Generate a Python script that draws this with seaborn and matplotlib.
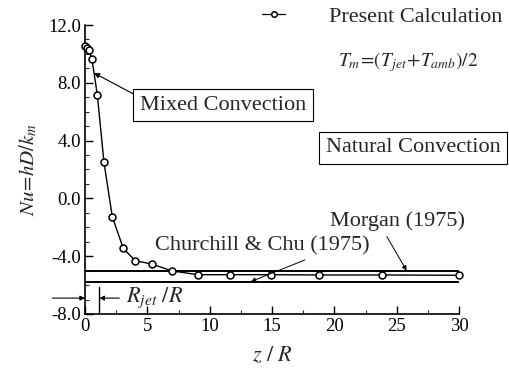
import numpy as np
import pandas as pd
import matplotlib
matplotlib.use("Agg")
import matplotlib.pyplot as plt
from matplotlib.ticker import MultipleLocator
import seaborn as sns

# ---- data ----
z_R = [0.0, 0.2, 0.3, 0.56, 0.99, 1.52, 2.19, 3.07, 4.03, 5.34, 7.0, 9.06, 11.6, 14.9, 18.8, 23.8, 30.0]
nu = [10.55, 10.4, 10.3, 9.62, 7.16, 2.5, -1.27, -3.46, -4.31, -4.54, -5.02, -5.28, -5.28, -5.28, -5.3, -5.3, -5.32]
morgan_x = [0.0, 30.0]
morgan_y = [-5.0, -5.0]
churchill_x = [0.0, 30.0]
churchill_y = [-5.76, -5.76]
rjet = 1.15
xticks = [0, 5, 10, 15, 20, 25, 30]
yticks = [-8.0, -4.0, 0.0, 4.0, 8.0, 12.0]

sns.set_style("ticks")
plt.rcParams['font.family'] = ['Liberation Serif', 'DejaVu Serif']
plt.rcParams['mathtext.fontset'] = 'stix'
plt.rcParams['axes.unicode_minus'] = False

fig = plt.figure(figsize=(5.09, 3.78), dpi=100)
ax = fig.add_axes([85/509, 1-314/378, (459-85)/509, (314-25)/378])

df = pd.DataFrame({"z": z_R, "nu": nu})
sns.lineplot(data=df, x="z", y="nu", ax=ax, color="black", lw=1.0, marker="o",
             markersize=5, markerfacecolor="white", markeredgecolor="black",
             markeredgewidth=1.1, label="Present Calculation", clip_on=False, zorder=3)
sns.lineplot(x=morgan_x, y=morgan_y, ax=ax, color="black", lw=1.4, legend=False)
sns.lineplot(x=churchill_x, y=churchill_y, ax=ax, color="black", lw=1.4, legend=False)

ax.set_xlim(0, 30)
ax.set_ylim(-8, 12)
ax.set_xticks(xticks)
ax.set_yticks(yticks)
ax.set_xticklabels([str(t) for t in xticks])
ax.set_yticklabels([f"{t:.1f}" for t in yticks])
ax.xaxis.set_minor_locator(MultipleLocator(2.5))
ax.yaxis.set_minor_locator(MultipleLocator(1.0))
ax.tick_params(which="major", direction="in", length=6, width=1, labelsize=13.5, pad=3, colors="black")
ax.tick_params(which="minor", direction="in", length=3, width=0.8)
for s in ["top", "right"]:
    ax.spines[s].set_visible(False)
for s in ["left", "bottom"]:
    ax.spines[s].set_linewidth(1.2)
    ax.spines[s].set_color("black")

ax.set_xlabel(r"$z\ /\ R$", fontsize=16, labelpad=8)
ax.set_ylabel(r"$Nu\!=\!hD/k_m$", fontsize=15, labelpad=6)

leg = ax.legend(loc="upper left", bbox_to_anchor=(262/509, 1-6/378), bbox_transform=fig.transFigure,
                frameon=False, fontsize=16, handlelength=1.05, handletextpad=1.95,
                borderaxespad=0, borderpad=0)
for h in leg.legend_handles:
    h.set_markersize(4)
    h.set_linewidth(0.9)

fig.text(408/509, 1-62/378, r"$T_m\!=\!(T_{jet}\!+\!T_{amb})/2$", fontsize=14, ha="center", va="center")

box = dict(boxstyle="square,pad=0.3", fc="white", ec="black", lw=0.8)
ax.annotate("Mixed Convection", xy=(0.72, 8.68), xytext=(223/509, 1-105/378), textcoords="figure fraction",
            fontsize=16, ha="center", va="center", bbox=box,
            arrowprops=dict(arrowstyle="-|>", color="black", lw=0.8, shrinkA=0, shrinkB=0,
                            relpos=(0, 0.9), mutation_scale=8))
ax.text(413/509, 1-148/378, "Natural Convection", transform=fig.transFigure, fontsize=16,
        ha="center", va="center", bbox=box)
ax.annotate("Morgan (1975)", xy=(25.8, -5.0), xytext=(397/509, 1-221/378), textcoords="figure fraction",
            fontsize=16, ha="center", va="center",
            arrowprops=dict(arrowstyle="-|>", color="black", lw=0.7, shrinkA=2, shrinkB=0,
                            relpos=(0.4, 0), mutation_scale=7))
ax.annotate("Churchill & Chu (1975)", xy=(13.3, -5.76), xytext=(262/509, 1-246/378), textcoords="figure fraction",
            fontsize=16, ha="center", va="center",
            arrowprops=dict(arrowstyle="-|>", color="black", lw=0.7, shrinkA=2, shrinkB=0,
                            relpos=(0.75, 0), mutation_scale=7))

# R_jet/R marker
ax.plot([rjet, rjet], [-8, -6.1], color="black", lw=1.0)
ax.annotate("", xy=(0, -6.9), xytext=(-2.6, -6.9), annotation_clip=False,
            arrowprops=dict(arrowstyle="-|>", color="black", lw=0.8, shrinkA=0, shrinkB=0, mutation_scale=7))
ax.annotate("", xy=(rjet, -6.9), xytext=(rjet + 1.6, -6.9),
            arrowprops=dict(arrowstyle="-|>", color="black", lw=0.8, shrinkA=0, shrinkB=0, mutation_scale=7))
ax.text(3.3, -6.9, r"$R_{jet}\ /R$", fontsize=16, ha="left", va="center")

fig.savefig("out.png", dpi=100)
